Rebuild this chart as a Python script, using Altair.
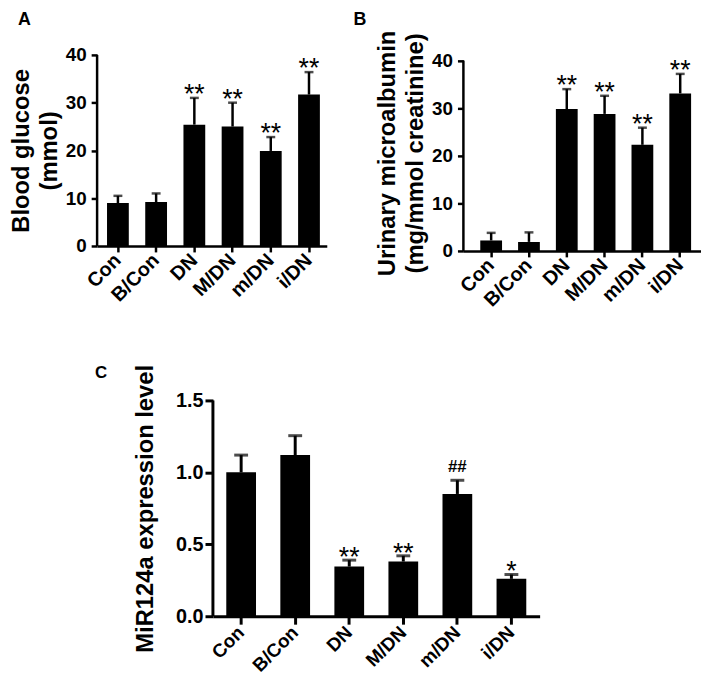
import altair as alt
import pandas as pd

# ---------------- data ----------------
groups = ["Con", "B/Con", "DN", "M/DN", "m/DN", "i/DN"]

glucose_mean = [9.0, 9.2, 25.4, 25.0, 19.9, 31.7]
glucose_err = [10.5, 11.0, 31.0, 30.0, 22.8, 36.4]
glucose_sig = ["", "", "**", "**", "**", "**"]

albumin_mean = [2.2, 1.9, 29.8, 28.8, 22.3, 33.1]
albumin_err = [3.8, 3.9, 34.0, 32.6, 25.9, 37.2]
albumin_sig = ["", "", "**", "**", "**", "**"]

mir_mean = [1.00, 1.12, 0.345, 0.38, 0.85, 0.26]
mir_err = [1.12, 1.255, 0.39, 0.42, 0.945, 0.29]
mir_sig = ["", "", "**", "**", "##", "*"]

glucose_ticks = [0, 10, 20, 30, 40]
albumin_ticks = [0, 10, 20, 30, 40]
mir_ticks = [0.0, 0.5, 1.0, 1.5]

FONT = "Liberation Sans"
DEBUG = False


def make_panel(mean, err, sig, ytitle, ydom, yvals, yfmt, width, height,
               pad_in, pad_out, band_align, letter, letter_x, letter_y, letter_size,
               anchor_x, anchor_top, anchor_bottom, tick_len, stroke_w, cap_w,
               title_size, title_pad, title_lh, lab_size, lab_pad, xlab_size, xlab_pad,
               star_size, star_dy, hash_size, hash_dy):
    df = pd.DataFrame({"group": groups, "mean": mean, "err": err, "sig": sig})
    base = alt.Chart(df)

    x = alt.X(
        "group:N", sort=groups, title=None,
        scale=alt.Scale(paddingInner=pad_in, paddingOuter=pad_out, align=band_align),
        axis=alt.Axis(
            labelAngle=-45, labelAlign="right", labelBaseline="middle",
            labelFont=FONT, labelFontSize=xlab_size, labelFontWeight="bold",
            labelColor="black", labelPadding=xlab_pad,
            tickSize=tick_len, tickWidth=stroke_w, tickColor="black",
            domainWidth=stroke_w, domainColor="black", grid=False,
        ),
    )
    y = alt.Y(
        "mean:Q", title=ytitle,
        scale=alt.Scale(domain=[0, ydom], nice=False, zero=True),
        axis=alt.Axis(
            values=yvals, format=yfmt, grid=False, domain=False,
            labelFont=FONT, labelFontSize=lab_size, labelFontWeight="bold",
            labelColor="black", labelPadding=lab_pad,
            tickSize=tick_len, tickWidth=stroke_w, tickColor="black",
            titleFont=FONT, titleFontSize=title_size, titleFontWeight="bold",
            titleColor="black", titlePadding=title_pad, titleLineHeight=title_lh,
        ),
    )
    xs = alt.X("group:N", sort=groups)

    bars = base.mark_bar(color="black").encode(x=x, y=y)
    yline = alt.Chart(alt.Data(values=[{"a": 0}])).mark_rule(
        color="black", strokeWidth=stroke_w).encode(
        x=alt.value(0), y=alt.datum(yvals[0]), y2=alt.datum(yvals[-1]))
    rules = base.mark_rule(color="black", strokeWidth=stroke_w).encode(
        x=xs, y="mean:Q", y2="err:Q")
    caps = base.mark_tick(color="black", size=cap_w, thickness=stroke_w,
                          orient="horizontal").encode(x=xs, y="err:Q")
    stars = base.transform_filter("datum.sig != '' && datum.sig != '##'").mark_text(
        font=FONT, fontSize=star_size, baseline="alphabetic", dy=star_dy, color="black"
    ).encode(x=xs, y="err:Q", text="sig:N")
    hashes = base.transform_filter("datum.sig == '##'").mark_text(
        font=FONT, fontSize=hash_size, fontWeight="bold", baseline="alphabetic",
        dy=hash_dy, color="black"
    ).encode(x=xs, y="err:Q", text="sig:N")

    layers = [bars, yline, rules, caps, stars, hashes]
    if letter:
        layers.append(alt.Chart(alt.Data(values=[{"t": letter}])).mark_text(
            align="left", baseline="top", font=FONT, fontSize=letter_size,
            fontWeight="bold", color="black"
        ).encode(text="t:N", x=alt.value(letter_x), y=alt.value(letter_y)))

    # invisible layout guide that fixes this panel's outer extent
    layers.append(alt.Chart(alt.Data(values=[{"a": 0}])).mark_rule(
        color="red", strokeWidth=1, opacity=1 if DEBUG else 0).encode(
        x=alt.value(anchor_x), x2=alt.value(anchor_x),
        y=alt.value(anchor_top), y2=alt.value(anchor_bottom)))

    return alt.layer(*layers).properties(width=width, height=height)


panel_a = make_panel(
    glucose_mean, glucose_err, glucose_sig, ["Blood glucose", "(mmol)"], 40,
    glucose_ticks, "d", 232, 193, 0.43, 0.22, 0.59,
    "A", -80, -44, 18, -90, -44, 288, 6, 2.5, 9,
    24, 4, 28, 19, 5, 20, 5, 27, 5, 17, -8)

panel_b = make_panel(
    albumin_mean, albumin_err, albumin_sig, ["Urinary microalbumin", "(mg/mmol creatinine)"], 41.19,
    albumin_ticks, "d", 240, 198, 0.424, 0.354, 0.63,
    "B", -111, -44, 18, -128, -44, 288, 6, 2.5, 9,
    24, 4, 28, 19, 5, 20, 5, 27, 5, 17, -8)

panel_c = make_panel(
    mir_mean, mir_err, mir_sig, "MiR124a expression level", 1.5,
    mir_ticks, ".1f", 330, 218, 0.45, 0.247, 0.5,
    None, 0, 0, 17, -85, -51, 230, 8, 3, 14,
    24, 18, 26, 20, 2, 19, 5, 27, 6, 17, -8)

# small cell that carries the panel letter "C" to the left of panel C
spacer_c = alt.Chart(alt.Data(values=[{"t": "C"}])).mark_text(
    align="left", baseline="top", font=FONT, fontSize=17, fontWeight="bold", color="black"
).encode(text="t:N", x=alt.value(-2), y=alt.value(-36)).properties(width=20, height=10)

top = alt.hconcat(panel_a, panel_b, spacing=10)
bottom = alt.hconcat(spacer_c, panel_c, spacing=12)
chart = alt.vconcat(top, bottom, spacing=10).properties(
    padding=0, background="#dddddd" if DEBUG else "white"
).configure_view(stroke="blue" if DEBUG else None)

chart.save("out.html", embed_options={"renderer": "svg", "actions": False})
